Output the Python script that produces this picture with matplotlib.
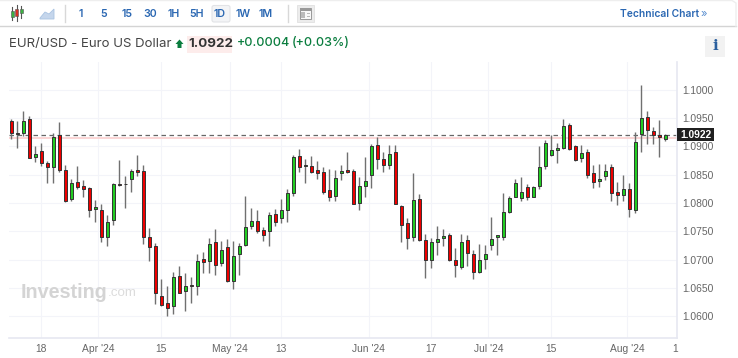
import matplotlib
matplotlib.use("Agg")
import matplotlib.pyplot as plt
from matplotlib.patches import Rectangle, Polygon, FancyBboxPatch

# Daily EUR/USD candles
opens = [1.0944, 1.0923, 1.0924, 1.0949, 1.0881, 1.0892, 1.0871, 1.0863, 1.0920, 1.0858,
         1.0807, 1.0837, 1.0831, 1.0826, 1.0789, 1.0787, 1.0741, 1.0770, 1.0834, 1.0834,
         1.0842, 1.0858, 1.0856, 1.0741, 1.0725, 1.0636, 1.0623, 1.0618, 1.0671, 1.0644,
         1.0655, 1.0653, 1.0701, 1.0697, 1.0731, 1.0694, 1.0723, 1.0663, 1.0710, 1.0726,
         1.0760, 1.0769, 1.0753, 1.0750, 1.0780, 1.0773, 1.0787, 1.0817, 1.0883, 1.0866,
         1.0866, 1.0858, 1.0854, 1.0823, 1.0813, 1.0853, 1.0858, 1.0856, 1.0801, 1.0831,
         1.0850, 1.0903, 1.0877, 1.0868, 1.0890, 1.0795, 1.0764, 1.0741, 1.0808, 1.0735,
         1.0700, 1.0732, 1.0738, 1.0744, 1.0700, 1.0687, 1.0734, 1.0711, 1.0678, 1.0701,
         1.0726, 1.0740, 1.0741, 1.0784, 1.0811, 1.0809, 1.0828, 1.0811, 1.0830, 1.0866,
         1.0885, 1.0894, 1.0898, 1.0938, 1.0900, 1.0880, 1.0891, 1.0853, 1.0839, 1.0847,
         1.0863, 1.0820, 1.0814, 1.0825, 1.0788, 1.0922, 1.0952, 1.0927, 1.0921, 1.0913]
highs = [1.0948, 1.0945, 1.0963, 1.0954, 1.0900, 1.0906, 1.0874, 1.0923, 1.0943, 1.0868,
         1.0842, 1.0865, 1.0840, 1.0828, 1.0806, 1.0798, 1.0779, 1.0836, 1.0876, 1.0847,
         1.0860, 1.0885, 1.0867, 1.0756, 1.0729, 1.0666, 1.0654, 1.0679, 1.0689, 1.0677,
         1.0670, 1.0711, 1.0713, 1.0739, 1.0754, 1.0733, 1.0736, 1.0733, 1.0729, 1.0812,
         1.0791, 1.0787, 1.0757, 1.0784, 1.0790, 1.0807, 1.0825, 1.0885, 1.0896, 1.0877,
         1.0883, 1.0875, 1.0863, 1.0861, 1.0858, 1.0867, 1.0890, 1.0860, 1.0846, 1.0882,
         1.0904, 1.0916, 1.0891, 1.0903, 1.0903, 1.0796, 1.0773, 1.0853, 1.0816, 1.0746,
         1.0739, 1.0760, 1.0754, 1.0747, 1.0720, 1.0746, 1.0744, 1.0717, 1.0727, 1.0726,
         1.0776, 1.0744, 1.0817, 1.0813, 1.0843, 1.0846, 1.0834, 1.0831, 1.0900, 1.0911,
         1.0921, 1.0906, 1.0949, 1.0941, 1.0902, 1.0903, 1.0896, 1.0867, 1.0869, 1.0869,
         1.0869, 1.0837, 1.0850, 1.0836, 1.0926, 1.1008, 1.0963, 1.0935, 1.0946, 1.0922]
lows = [1.0913, 1.0898, 1.0918, 1.0880, 1.0872, 1.0865, 1.0835, 1.0836, 1.0855, 1.0802,
        1.0803, 1.0824, 1.0810, 1.0775, 1.0767, 1.0731, 1.0725, 1.0762, 1.0830, 1.0791,
        1.0820, 1.0848, 1.0727, 1.0698, 1.0622, 1.0619, 1.0600, 1.0604, 1.0641, 1.0610,
        1.0623, 1.0638, 1.0676, 1.0677, 1.0673, 1.0689, 1.0661, 1.0648, 1.0673, 1.0725,
        1.0754, 1.0747, 1.0733, 1.0724, 1.0760, 1.0764, 1.0767, 1.0813, 1.0854, 1.0835,
        1.0853, 1.0842, 1.0816, 1.0804, 1.0804, 1.0840, 1.0853, 1.0798, 1.0787, 1.0811,
        1.0826, 1.0860, 1.0854, 1.0861, 1.0798, 1.0732, 1.0719, 1.0733, 1.0733, 1.0667,
        1.0686, 1.0709, 1.0724, 1.0698, 1.0670, 1.0684, 1.0689, 1.0666, 1.0676, 1.0683,
        1.0718, 1.0708, 1.0735, 1.0783, 1.0810, 1.0803, 1.0806, 1.0810, 1.0825, 1.0861,
        1.0883, 1.0871, 1.0895, 1.0894, 1.0875, 1.0872, 1.0844, 1.0826, 1.0828, 1.0840,
        1.0803, 1.0797, 1.0803, 1.0776, 1.0782, 1.0891, 1.0904, 1.0904, 1.0881, 1.0910]
closes = [1.0924, 1.0922, 1.0945, 1.0880, 1.0886, 1.0870, 1.0864, 1.0917, 1.0858, 1.0804,
          1.0835, 1.0829, 1.0824, 1.0787, 1.0793, 1.0741, 1.0767, 1.0834, 1.0832, 1.0833,
          1.0857, 1.0854, 1.0741, 1.0723, 1.0641, 1.0620, 1.0615, 1.0670, 1.0641, 1.0653,
          1.0653, 1.0697, 1.0696, 1.0728, 1.0691, 1.0717, 1.0663, 1.0707, 1.0724, 1.0757,
          1.0768, 1.0751, 1.0744, 1.0779, 1.0767, 1.0787, 1.0817, 1.0881, 1.0864, 1.0868,
          1.0854, 1.0853, 1.0820, 1.0811, 1.0844, 1.0857, 1.0854, 1.0798, 1.0830, 1.0839,
          1.0901, 1.0877, 1.0868, 1.0887, 1.0798, 1.0761, 1.0739, 1.0806, 1.0734, 1.0699,
          1.0732, 1.0736, 1.0742, 1.0699, 1.0690, 1.0731, 1.0712, 1.0679, 1.0700, 1.0711,
          1.0736, 1.0743, 1.0785, 1.0809, 1.0835, 1.0820, 1.0811, 1.0829, 1.0864, 1.0906,
          1.0894, 1.0897, 1.0936, 1.0895, 1.0876, 1.0888, 1.0849, 1.0838, 1.0842, 1.0856,
          1.0817, 1.0814, 1.0825, 1.0790, 1.0907, 1.0951, 1.0929, 1.0920, 1.0917, 1.0921]

tick_pos = [5, 14.5, 25, 36.5, 45, 59.6, 70, 79.5, 90, 102.6, 110.6]
tick_labels = ["18", "Apr '24", "15", "May '24", "13", "Jun '24", "17", "Jul '24", "15", "Aug '24", "1"]
price_ticks = [1.06, 1.065, 1.07, 1.075, 1.08, 1.085, 1.09, 1.095, 1.10]
last_price = 1.0921
prev_close = 1.09155
intervals = ["1", "5", "15", "30", "1H", "5H", "1D", "1W", "1M"]
interval_x = [81, 104, 127, 150, 174, 197, 220, 243, 266]

W, H = 738, 358
fig = plt.figure(figsize=(W / 100, H / 100), dpi=100, facecolor="white")
left, right, top, bottom = 9, 677, 62, 337.7
ax = fig.add_axes([left / W, 1 - bottom / H, (right - left) / W, (bottom - top) / H])

GREEN = "#22cc22"
RED = "#ee0000"
idx = list(range(len(opens)))
colors = [GREEN if c >= o else RED for o, c in zip(opens, closes)]
body_low = [min(o, c) for o, c in zip(opens, closes)]
body_h = [abs(c - o) for o, c in zip(opens, closes)]

ax.vlines(idx, lows, highs, color="#707070", lw=1.0, zorder=3)
ax.bar(idx, body_h, bottom=body_low, width=0.56, color=colors, edgecolor="#333333", lw=0.7, zorder=4)

ax.axhline(prev_close, color="#fbd5d5", lw=1.4, zorder=2)
ax.axhline(last_price, color="#666666", lw=0.9, dashes=(3.6, 2.8), zorder=2)

ax.set_xlim(-0.383, 110.95)
ax.set_ylim(1.05624, 1.1049)
ax.set_xticks(tick_pos)
ax.set_xticklabels(tick_labels)
ax.set_yticks(price_ticks)
ax.set_yticklabels([f"{p:.4f}" for p in price_ticks])
ax.yaxis.tick_right()
ax.tick_params(length=0, labelsize=7.4, labelcolor="#666666")
ax.tick_params(axis="x", pad=4.5)
ax.tick_params(axis="y", pad=4)
for lab in ax.get_xticklabels() + ax.get_yticklabels():
    lab.set_family("Liberation Sans")
ax.grid(True, color="#f3f4f9", lw=0.8)
ax.set_axisbelow(True)
ax.get_xgridlines()[-1].set_visible(False)
for side in ["top", "left"]:
    ax.spines[side].set_visible(False)
for side in ["right", "bottom"]:
    ax.spines[side].set_color("#e6e8f1")
    ax.spines[side].set_linewidth(1.2)

# toolbar, header and logo, drawn in pixel coordinates
over = fig.add_axes([0, 0, 1, 1], facecolor="none")
over.set_xlim(0, W)
over.set_ylim(H, 0)
over.axis("off")

over.plot([0, 736], [26, 26], color="#d4d4d4", lw=1)
over.plot([0, 732, 736, 736], [0.5, 0.5, 3, 26], color="#eeeeee", lw=1)
over.plot([64.5, 64.5], [5, 22], color="#d8d8d8", lw=1)
over.plot([287.5, 287.5], [5, 22], color="#d8d8d8", lw=1)

# candle and area icons
for x, y0, y1, by0, by1, col in [(12, 7, 20, 11, 17, "#3cb043"), (16.5, 5, 21, 9, 16, "#d93025"), (21, 6, 18, 9, 13, "#3cb043")]:
    over.plot([x, x], [y0, y1], color="#555555", lw=0.8)
    over.add_patch(Rectangle((x - 1.5, by0), 3, by1 - by0, fc=col, ec="#555555", lw=0.4, zorder=3))
over.add_patch(Polygon([(40, 18), (45, 12), (49, 14), (54, 9), (54, 19), (40, 19)], fc="#c5d6ec", ec="#a9c3e2", lw=0.6))

over.add_patch(FancyBboxPatch((212, 5.5), 18, 16.5, boxstyle="round,pad=0,rounding_size=2", fc="#f3f4f6", ec="#e2e3e6", lw=0.8))
for label, x in zip(intervals, interval_x):
    over.text(x, 14, label, ha="center", va="center", fontsize=7.6, fontweight="semibold", color="#2a67b2", family="Inter")

over.add_patch(Rectangle((297, 5), 17, 17, fc="#ececec", ec="#e0e0e0", lw=0.6))
over.add_patch(Rectangle((300, 8), 11, 11, fc="#f8f8f8", ec="#999999", lw=0.7))
over.add_patch(Rectangle((300, 8), 11, 2.5, fc="#999999", ec="none"))
over.add_patch(Rectangle((301, 12), 4, 6, fc="#bbbbbb", ec="none"))
over.add_patch(Rectangle((306.5, 12.5), 3.5, 1, fc="#bbbbbb", ec="none"))
over.add_patch(Rectangle((306.5, 15.5), 3.5, 1, fc="#bbbbbb", ec="none"))

over.text(620, 14, "Technical Chart", ha="left", va="center", fontsize=7.4, fontweight="semibold", color="#2a67b2", family="Inter")
over.text(701, 13.5, "\u00bb", ha="left", va="center", fontsize=8, color="#5b8fd0", family="Inter")

over.text(9, 43.5, "EUR/USD - Euro US Dollar", ha="left", va="center", fontsize=9.5, color="#444444", family="Inter")
over.add_patch(Polygon([(179.5, 39.5), (175.5, 44), (177.5, 44), (177.5, 48), (181.5, 48), (181.5, 44), (183.5, 44)], fc="#0a7d3e", ec="none"))
over.add_patch(Rectangle((187, 36), 44.5, 17, fc="#fdeceb", ec="none"))
over.text(188.5, 44, "1.0922", ha="left", va="center", fontsize=9.6, fontweight="bold", color="#333333", family="Inter")
over.text(237, 43, "+0.0004", ha="left", va="center", fontsize=9, fontweight="medium", color="#0a7d3e", family="Inter")
over.text(292, 43, "(+0.03%)", ha="left", va="center", fontsize=9, fontweight="medium", color="#0a7d3e", family="Inter")

over.add_patch(Rectangle((705, 36), 20, 21, fc="#f2f2f2", ec="none"))
over.text(715, 46.5, "i", ha="center", va="center", fontsize=11, fontweight="bold", color="#2a5f9e", family="DejaVu Serif")

over.add_patch(Rectangle((677, 128), 37, 13, fc="#1f1f1f", ec="none"))
over.text(695.5, 134.7, "1.0922", ha="center", va="center", fontsize=7.4, fontweight="bold", color="white", family="Liberation Sans")

over.text(21, 292, "Investing", ha="left", va="center", fontsize=14.2, fontweight="bold", color="#d4d4d4", family="Liberation Sans")
over.text(108, 293.5, ".com", ha="left", va="center", fontsize=9.6, color="#dcdcdc", family="Liberation Sans")

plt.savefig("out.png", dpi=100)
